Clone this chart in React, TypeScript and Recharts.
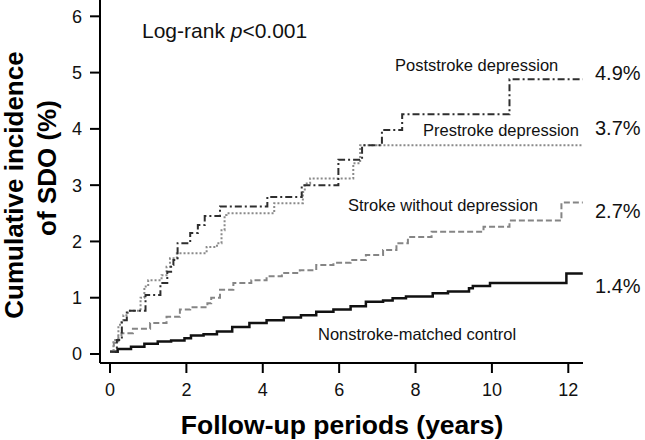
import { LineChart, Line, XAxis, YAxis } from "recharts";

// cumulative incidence (%) vs follow-up years
const poststroke = [
  { t: 0, v: 0.04 }, { t: 0.18, v: 0.25 }, { t: 0.31, v: 0.6 }, { t: 0.44, v: 0.77 },
  { t: 0.93, v: 1.05 }, { t: 1.32, v: 1.26 }, { t: 1.5, v: 1.46 }, { t: 1.6, v: 1.58 },
  { t: 1.66, v: 1.67 }, { t: 1.77, v: 1.97 }, { t: 2.1, v: 2.15 }, { t: 2.3, v: 2.29 },
  { t: 2.48, v: 2.45 }, { t: 2.88, v: 2.62 }, { t: 4.12, v: 2.79 }, { t: 5.02, v: 3.0 },
  { t: 5.98, v: 3.45 }, { t: 6.6, v: 3.71 }, { t: 7.12, v: 3.98 }, { t: 7.65, v: 4.26 },
  { t: 10.46, v: 4.88 }, { t: 12.38, v: 4.88 },
];

const prestroke = [
  { t: 0, v: 0.04 }, { t: 0.09, v: 0.25 }, { t: 0.22, v: 0.52 }, { t: 0.3, v: 0.6 },
  { t: 0.35, v: 0.69 }, { t: 0.47, v: 0.77 }, { t: 0.8, v: 1.0 }, { t: 0.9, v: 1.2 },
  { t: 1.0, v: 1.31 }, { t: 1.35, v: 1.4 }, { t: 1.48, v: 1.55 }, { t: 1.57, v: 1.7 },
  { t: 1.75, v: 1.79 }, { t: 2.53, v: 1.9 }, { t: 2.8, v: 1.97 }, { t: 2.92, v: 2.2 },
  { t: 3.0, v: 2.47 }, { t: 3.05, v: 2.5 }, { t: 4.3, v: 2.68 }, { t: 5.05, v: 2.88 },
  { t: 5.1, v: 3.03 }, { t: 5.24, v: 3.12 }, { t: 6.37, v: 3.39 }, { t: 6.55, v: 3.71 },
  { t: 12.38, v: 3.71 },
];

const strokeNoDep = [
  { t: 0, v: 0.04 }, { t: 0.1, v: 0.2 }, { t: 0.22, v: 0.31 }, { t: 0.3, v: 0.37 },
  { t: 0.6, v: 0.45 }, { t: 1.05, v: 0.55 }, { t: 1.48, v: 0.66 }, { t: 1.83, v: 0.79 },
  { t: 2.1, v: 0.83 }, { t: 2.55, v: 0.9 }, { t: 2.65, v: 1.0 }, { t: 2.88, v: 1.14 },
  { t: 3.23, v: 1.26 }, { t: 3.7, v: 1.31 }, { t: 4.1, v: 1.38 }, { t: 4.5, v: 1.44 },
  { t: 4.97, v: 1.49 }, { t: 5.4, v: 1.58 }, { t: 5.85, v: 1.62 }, { t: 6.3, v: 1.67 },
  { t: 6.7, v: 1.76 }, { t: 7.15, v: 1.85 }, { t: 7.5, v: 1.97 }, { t: 7.8, v: 2.08 },
  { t: 8.42, v: 2.17 }, { t: 9.78, v: 2.26 }, { t: 10.46, v: 2.37 }, { t: 11.82, v: 2.69 },
  { t: 12.38, v: 2.69 },
];

const nonstroke = [
  { t: 0, v: 0.04 }, { t: 0.2, v: 0.09 }, { t: 0.55, v: 0.13 }, { t: 0.9, v: 0.18 },
  { t: 1.25, v: 0.22 }, { t: 1.6, v: 0.24 }, { t: 1.95, v: 0.28 }, { t: 2.12, v: 0.33 },
  { t: 2.45, v: 0.35 }, { t: 2.8, v: 0.4 }, { t: 3.2, v: 0.48 }, { t: 3.65, v: 0.55 },
  { t: 4.1, v: 0.6 }, { t: 4.55, v: 0.65 }, { t: 5.0, v: 0.69 }, { t: 5.4, v: 0.75 },
  { t: 5.85, v: 0.79 }, { t: 6.3, v: 0.85 }, { t: 6.7, v: 0.93 }, { t: 7.15, v: 0.95 },
  { t: 7.4, v: 0.99 }, { t: 7.75, v: 1.02 }, { t: 8.45, v: 1.08 }, { t: 8.85, v: 1.11 },
  { t: 9.4, v: 1.17 }, { t: 9.5, v: 1.21 }, { t: 9.95, v: 1.26 }, { t: 11.95, v: 1.43 },
  { t: 12.38, v: 1.43 },
];

const xTicks = [0, 2, 4, 6, 8, 10, 12];
const yTicks = [0, 1, 2, 3, 4, 5, 6];

const FONT = "'Liberation Sans', Arial, Helvetica, sans-serif";

export default function App() {
  const axisLine = { stroke: "#000", strokeWidth: 2 };
  const tickStyle = { fill: "#111", fontSize: 18, fontFamily: FONT };

  return (
    <div style={{ position: "absolute", left: 0, top: 0, width: 645, height: 440, background: "#fff" }}>
      <LineChart
        width={645}
        height={440}
        margin={{ top: 0, right: 62, left: 0, bottom: 0 }}
        style={{ fontFamily: FONT }}
      >
        <XAxis
          type="number"
          dataKey="t"
          domain={[-0.262, 12.385]}
          ticks={xTicks}
          allowDataOverflow
          height={77}
          tickSize={10}
          tickMargin={10}
          axisLine={axisLine}
          tickLine={axisLine}
          tick={tickStyle}
        />
        <YAxis
          type="number"
          domain={[-0.16, 6.29]}
          ticks={yTicks}
          allowDataOverflow
          width={100}
          tickSize={10}
          tickMargin={8}
          axisLine={axisLine}
          tickLine={axisLine}
          tick={tickStyle}
        />
        <Line
          data={nonstroke}
          dataKey="v"
          type="stepAfter"
          stroke="#111"
          strokeWidth={2.5}
          dot={false}
          isAnimationActive={false}
        />
        <Line
          data={strokeNoDep}
          dataKey="v"
          type="stepAfter"
          stroke="#858585"
          strokeWidth={2}
          strokeDasharray="6 3"
          dot={false}
          isAnimationActive={false}
        />
        <Line
          data={prestroke}
          dataKey="v"
          type="stepAfter"
          stroke="#8a8a8a"
          strokeWidth={2}
          strokeDasharray="2 2"
          dot={false}
          isAnimationActive={false}
        />
        <Line
          data={poststroke}
          dataKey="v"
          type="stepAfter"
          stroke="#2e2e2e"
          strokeWidth={2}
          strokeDasharray="7 3 2 3"
          dot={false}
          isAnimationActive={false}
        />
      </LineChart>

      {/* annotations and axis titles */}
      <svg
        width={645}
        height={440}
        style={{ position: "absolute", left: 0, top: 0, pointerEvents: "none", fontFamily: FONT }}
      >
        <text x={142} y={38} fontSize={21} fill="#111">
          Log-rank <tspan fontStyle="italic">p</tspan>&lt;0.001
        </text>

        <text x={395} y={71} fontSize={16.5} fill="#111">Poststroke depression</text>
        <text x={423} y={136} fontSize={16.5} fill="#111">Prestroke depression</text>
        <text x={348} y={211} fontSize={16.5} fill="#111">Stroke without depression</text>
        <text x={318} y={340} fontSize={16.5} fill="#111">Nonstroke-matched control</text>

        <text x={595} y={80} fontSize={20} fill="#111">4.9%</text>
        <text x={595} y={135} fontSize={20} fill="#111">3.7%</text>
        <text x={595} y={218} fontSize={20} fill="#111">2.7%</text>
        <text x={595} y={293} fontSize={20} fill="#111">1.4%</text>

        <text
          x={23}
          y={185}
          fontSize={26}
          fontWeight="bold"
          textAnchor="middle"
          fill="#000"
          transform="rotate(-90 23 185)"
        >
          Cumulative incidence
        </text>
        <text
          x={56}
          y={168}
          fontSize={26}
          fontWeight="bold"
          textAnchor="middle"
          fill="#000"
          transform="rotate(-90 56 168)"
        >
          of SDO (%)
        </text>

        <text x={342} y={434} fontSize={26.5} fontWeight="bold" textAnchor="middle" fill="#000">
          Follow-up periods (years)
        </text>
      </svg>
    </div>
  );
}
